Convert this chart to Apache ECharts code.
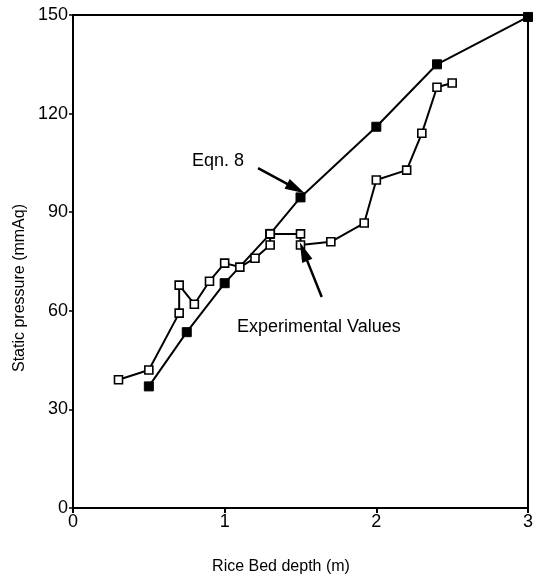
<!DOCTYPE html>
<html>
<head>
<meta charset="utf-8">
<script src="https://cdn.jsdelivr.net/npm/echarts@6/dist/echarts.min.js"></script>
<style>
  html, body { margin: 0; padding: 0; background: #fff; }
  #chart { width: 537px; height: 579px; }
</style>
</head>
<body>
<div id="chart"></div>
<script>
// Eqn. 8 (filled squares)
var eqnDepth = [0.5, 0.75, 1.0, 1.3, 1.5, 2.0, 2.4, 3.0];
var eqnPressure = [37, 53.5, 68.4, 83.4, 94.5, 116, 135, 149.4];

// experimental values (open squares)
var expDepth = [0.3, 0.5, 0.7, 0.7, 0.8, 0.9, 1.0, 1.1, 1.2, 1.3, 1.3, 1.5, 1.5, 1.7, 1.92, 2.0, 2.2, 2.3, 2.4, 2.5];
var expPressure = [39, 42, 59.3, 67.8, 62, 69, 74.5, 73.3, 76, 80, 83.4, 83.4, 80, 81, 86.7, 99.8, 102.8, 114, 128, 129.3];

// annotation arrows [from, to]
var eqnArrow = [[1.22, 103.4], [1.47, 97.2]];
var expArrow = [[1.64, 64.2], [1.52, 78]];

function pairs(xs, ys) {
    var out = [];
    for (var i = 0; i < xs.length; i++) out.push([xs[i], ys[i]]);
    return out;
}

var font = 'Liberation Sans';
var chart = echarts.init(document.getElementById('chart'));

var option = {
    backgroundColor: '#fff',
    animation: false,
    textStyle: { fontFamily: font },
    grid: { left: 73, right: 9, top: 15, bottom: 71, show: true, borderColor: '#000', borderWidth: 2, backgroundColor: 'transparent' },
    xAxis: {
        type: 'value', min: 0, max: 3, interval: 1,
        axisLine: { lineStyle: { color: '#000', width: 2 } },
        axisTick: { inside: false, length: 5, lineStyle: { color: '#000', width: 2 } },
        axisLabel: { fontSize: 18, color: '#000', margin: 5, fontFamily: font },
        splitLine: { show: false }
    },
    yAxis: {
        type: 'value', min: 0, max: 150, interval: 30,
        axisLine: { lineStyle: { color: '#000', width: 2 } },
        axisTick: { length: 4, lineStyle: { color: '#000', width: 1.5 } },
        axisLabel: { fontSize: 18, color: '#000', margin: 5, fontFamily: font },
        splitLine: { show: false }
    },
    series: [
        {
            name: 'Eqn. 8', type: 'line',
            data: pairs(eqnDepth, eqnPressure),
            symbol: 'rect', symbolSize: 9,
            lineStyle: { color: '#000', width: 2 },
            itemStyle: { color: '#000', borderColor: '#000', borderWidth: 1 },
            markLine: {
                silent: true,
                symbol: ['none', 'triangle'], symbolSize: [11, 20],
                lineStyle: { color: '#000', width: 2.5, type: 'solid' },
                label: { show: false },
                data: [
                    [{ coord: eqnArrow[0] }, { coord: eqnArrow[1] }],
                    [{ coord: expArrow[0] }, { coord: expArrow[1] }]
                ]
            }
        },
        {
            name: 'Experimental Values', type: 'line',
            data: pairs(expDepth, expPressure),
            symbol: 'rect', symbolSize: 8,
            lineStyle: { color: '#000', width: 2 },
            itemStyle: { color: '#fff', borderColor: '#000', borderWidth: 1.6 }
        }
    ],
    graphic: [
        { type: 'text', left: 192, top: 152, style: { text: 'Eqn. 8', fontSize: 18, fill: '#000', fontFamily: font } },
        { type: 'text', left: 237, top: 318, style: { text: 'Experimental Values', fontSize: 18, fill: '#000', fontFamily: font } },
        { type: 'text', x: 281, y: 567, style: { text: 'Rice Bed depth (m)', fontSize: 16, fill: '#000', fontFamily: font, align: 'center', verticalAlign: 'middle' } },
        { type: 'text', x: 20, y: 288, rotation: Math.PI / 2, style: { text: 'Static pressure (mmAq)', fontSize: 16, fill: '#000', fontFamily: font, align: 'center', verticalAlign: 'middle' } }
    ]
};

chart.setOption(option);
</script>
</body>
</html>
